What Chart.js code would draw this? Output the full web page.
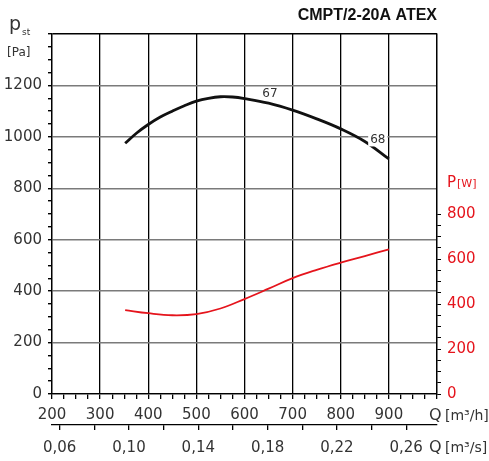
<!DOCTYPE html>
<html>
<head>
<meta charset="utf-8">
<script src="https://cdn.jsdelivr.net/npm/chart.js@4.4.1/dist/chart.umd.min.js"></script>
<style>
  html, body { margin: 0; padding: 0; background: #fff; }
  canvas { display: block; }
</style>
</head>
<body>
<canvas id="fan-curve" width="489" height="461"></canvas>
<script>
// CMPT/2-20A ATEX fan curve: static pressure and absorbed power vs airflow

// static pressure [Pa] against airflow [m3/h]
const pressureFlow = [352, 376, 400, 425, 450, 475, 500, 525, 550, 575, 600, 650, 700, 750, 800, 850, 900];
const pressure = [975, 1015, 1048, 1077, 1100, 1121, 1139, 1150, 1156, 1155, 1149, 1131, 1104, 1070, 1031, 982, 914];
// absorbed power [W] against airflow [m3/h]
const powerFlow = [352, 400, 450, 500, 550, 600, 650, 700, 750, 800, 850, 900];
const power = [373, 359, 350, 355, 380, 422, 468, 515, 552, 584, 613, 643];

// tick labels for the flow axes
const flowLabels = [200, 300, 400, 500, 600, 700, 800, 900];
const flowSecTicks = [0.06, 0.08, 0.10, 0.12, 0.14, 0.16, 0.18, 0.20, 0.22, 0.24, 0.26];
const flowSecLabels = [0.06, 0.10, 0.14, 0.18, 0.22, 0.26];
const pressureLabels = [0, 200, 400, 600, 800, 1000, 1200];
const powerLabels = [0, 200, 400, 600, 800];

// efficiency tags along the pressure curve
const tagText = ['67', '68'];
const tagFlow = [653, 877];
const tagPressure = [1169, 990];

const RED = '#e5141c';
const INK = '#333';
const tickFont = { family: 'DejaVu Sans', size: 15 };

// draws title, axis units and curve tags
const annotations = {
  id: 'annotations',
  afterDraw(chart) {
    const { ctx, scales } = chart;
    const x = scales.x, y = scales.y;
    ctx.save();

    ctx.fillStyle = '#111';
    ctx.font = 'bold 16px "Liberation Sans"';
    ctx.textAlign = 'right';
    ctx.textBaseline = 'alphabetic';
    ctx.fillText('CMPT/2-20A ATEX', 437, 20);

    // left axis unit
    ctx.fillStyle = INK;
    ctx.textAlign = 'left';
    ctx.font = '19px "DejaVu Sans"';
    ctx.fillText('p', 9, 30);
    ctx.font = '9px "DejaVu Sans"';
    ctx.fillText('st', 22, 35);
    ctx.font = '12px "DejaVu Sans"';
    ctx.fillText('[Pa]', 7, 56);

    // right axis unit
    ctx.fillStyle = RED;
    ctx.font = '15px "DejaVu Sans"';
    ctx.fillText('P', 447, 187);
    ctx.font = '11px "DejaVu Sans"';
    ctx.fillText('[W]', 457, 187);

    // flow units
    ctx.fillStyle = INK;
    ctx.font = '16px "DejaVu Sans"';
    ctx.fillText('Q', 429, 420);
    ctx.fillText('Q', 429, 452);
    ctx.font = '14px "DejaVu Sans"';
    ctx.fillText('[m³/h]', 445, 420);
    ctx.fillText('[m³/s]', 445, 452);

    // curve tags
    ctx.font = '12px "DejaVu Sans"';
    ctx.textAlign = 'center';
    ctx.textBaseline = 'middle';
    tagText.forEach((t, i) => {
      const px = x.getPixelForValue(tagFlow[i]);
      const py = y.getPixelForValue(tagPressure[i]);
      if (i === 1) {
        const w = ctx.measureText(t).width;
        ctx.fillStyle = '#fff';
        ctx.fillRect(px - w / 2 - 2, py - 7, w + 4, 14);
      }
      ctx.fillStyle = INK;
      ctx.fillText(t, px, py);
    });
    ctx.restore();
  }
};

new Chart(document.getElementById('fan-curve'), {
  type: 'line',
  data: {
    datasets: [
      {
        label: 'Pressure',
        data: pressureFlow.map((q, i) => ({ x: q, y: pressure[i] })),
        borderColor: '#111',
        borderWidth: 2.8,
        pointRadius: 0,
        tension: 0.4,
        yAxisID: 'y'
      },
      {
        label: 'Power',
        data: powerFlow.map((q, i) => ({ x: q, y: power[i] })),
        borderColor: RED,
        borderWidth: 1.8,
        pointRadius: 0,
        tension: 0.4,
        yAxisID: 'y1'
      }
    ]
  },
  options: {
    responsive: false,
    animation: false,
    layout: { padding: { top: 34, left: 0, right: 0, bottom: 0 } },
    plugins: { legend: { display: false }, tooltip: { enabled: false } },
    scales: {
      x: {
        type: 'linear',
        position: 'bottom',
        min: 200,
        max: 1000,
        weight: 0,
        afterFit: s => { s.height = 31; },
        ticks: {
          stepSize: 25,
          autoSkip: false,
          maxRotation: 0,
          padding: 7,
          color: INK,
          font: tickFont,
          callback: v => flowLabels.includes(v) ? String(v) : ''
        },
        grid: {
          color: c => (c.tick && c.tick.value % 100 === 0) ? '#000' : 'transparent',
          lineWidth: 1.3,
          tickColor: '#000',
          tickLength: 5
        },
        border: { color: '#000', width: 1.3 }
      },
      x2: {
        type: 'linear',
        position: 'bottom',
        min: 200 / 3600,
        max: 1000 / 3600,
        weight: 1,
        afterFit: s => { s.height = 36; },
        afterBuildTicks: s => { s.ticks = flowSecTicks.map(v => ({ value: v })); },
        ticks: {
          autoSkip: false,
          maxRotation: 0,
          padding: 9,
          color: INK,
          font: tickFont,
          callback: v => flowSecLabels.some(l => Math.abs(l - v) < 1e-6) ? v.toFixed(2).replace('.', ',') : ''
        },
        grid: { drawOnChartArea: false, tickColor: '#000', tickLength: 5, lineWidth: 1.3 },
        border: { color: '#000', width: 1.3 }
      },
      y: {
        type: 'linear',
        position: 'left',
        min: 0,
        max: 1400,
        afterFit: s => { s.width = 52; },
        ticks: {
          stepSize: 50,
          autoSkip: false,
          padding: 6,
          color: INK,
          font: tickFont,
          callback: v => pressureLabels.includes(v) ? String(v) : ''
        },
        grid: {
          color: c => {
            const v = c.tick ? c.tick.value : -1;
            if (v === 1400) return '#000';
            return v % 200 === 0 ? '#7a7a7a' : 'transparent';
          },
          lineWidth: 1.4,
          tickColor: '#000',
          tickLength: 4
        },
        border: { color: '#000', width: 1.3 }
      },
      y1: {
        type: 'linear',
        position: 'right',
        min: 0,
        max: 1600,
        afterFit: s => { s.width = 52; },
        ticks: {
          stepSize: 50,
          autoSkip: false,
          padding: 6,
          color: RED,
          font: tickFont,
          callback: v => powerLabels.includes(v) ? String(v) : ''
        },
        grid: {
          drawOnChartArea: false,
          tickColor: c => (c.tick && c.tick.value <= 800) ? '#000' : 'transparent',
          tickLength: 4
        },
        border: { color: '#000', width: 1.3 }
      }
    }
  },
  plugins: [annotations]
});
</script>
</body>
</html>
